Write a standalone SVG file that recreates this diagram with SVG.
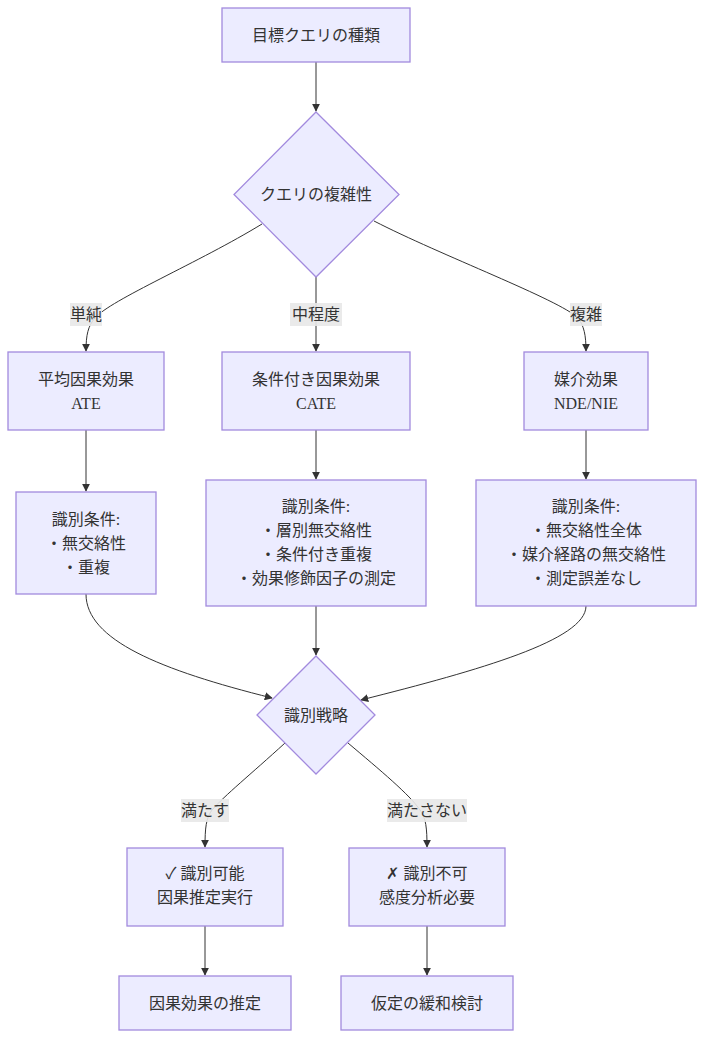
<svg xmlns="http://www.w3.org/2000/svg" width="704" height="1038" viewBox="0 0 704 1038">
<defs>
<marker id="arr" viewBox="0 0 10 10" refX="9" refY="5" markerWidth="8" markerHeight="8" markerUnits="userSpaceOnUse" orient="auto">
<path d="M0,0 L10,5 L0,10 z" fill="#333"/>
</marker>
<style>
.n{fill:#ECECFF;stroke:#a28ade;stroke-width:1.3}
.t{font-family:"Liberation Serif","Noto Sans CJK JP",serif;font-size:16px;fill:#333;text-anchor:middle;dominant-baseline:central}
.e{fill:none;stroke:#333;stroke-width:1;marker-end:url(#arr)}
.lb{fill:#e8e8e8;opacity:0.9}
</style>
</defs>
<rect width="704" height="1038" fill="#fff"/>
<g id="connectors">
<path class="e" d="M316,62 L316,111"/>
<path class="e" d="M262,224 C200,262 110,300 95,318 C88,326 86,335 86,351"/>
<path class="e" d="M316,277 L316,351"/>
<path class="e" d="M374,221 C440,255 560,300 578,318 C584,326 586,335 586,351"/>
<path class="e" d="M86,430 L86,491"/>
<path class="e" d="M316,430 L316,479"/>
<path class="e" d="M586,430 L586,479"/>
<path class="e" d="M86,594 C86,640 160,670 272,698"/>
<path class="e" d="M316,606 L316,655"/>
<path class="e" d="M586,606 C586,640 480,670 361,700"/>
<path class="e" d="M285,743 C250,775 225,795 212,810 C206,818 205,828 205,847"/>
<path class="e" d="M348,743 C380,770 410,795 420,810 C426,818 427,828 427,847"/>
<path class="e" d="M205,926 L205,975"/>
<path class="e" d="M427,926 L427,975"/>
<rect class="lb" x="70" y="303" width="32" height="23"/>
<text class="t" x="86" y="314">単純</text>
<rect class="lb" x="290" y="303" width="52" height="23"/>
<text class="t" x="316" y="314">中程度</text>
<rect class="lb" x="570" y="303" width="32" height="23"/>
<text class="t" x="586" y="314">複雑</text>
<rect class="lb" x="181" y="799" width="48" height="23"/>
<text class="t" x="205" y="810">満たす</text>
<rect class="lb" x="387" y="799" width="80" height="23"/>
<text class="t" x="427" y="810">満たさない</text>
</g>
<g id="start"><rect class="n" x="222" y="8" width="188" height="54"/><text class="t" x="316" y="35">目標クエリの種類</text></g>
<g id="complexity"><polygon class="n" points="316,112 399,194.5 316,277 234,194.5"/><text class="t" x="316" y="194">クエリの複雑性</text></g>
<g id="ate"><rect class="n" x="8" y="352" width="156" height="78"/><text class="t" x="86" y="379">平均因果効果</text><text class="t" x="86" y="403">ATE</text></g>
<g id="cate"><rect class="n" x="222" y="352" width="188" height="78"/><text class="t" x="316" y="379">条件付き因果効果</text><text class="t" x="316" y="403">CATE</text></g>
<g id="med"><rect class="n" x="524" y="352" width="124" height="78"/><text class="t" x="586" y="379">媒介効果</text><text class="t" x="586" y="403">NDE/NIE</text></g>
<g id="cond1"><rect class="n" x="16" y="492" width="140" height="102"/><text class="t" x="86" y="519">識別条件:</text><text class="t" x="86" y="543">・無交絡性</text><text class="t" x="86" y="567">・重複</text></g>
<g id="cond2"><rect class="n" x="206" y="480" width="220" height="126"/><text class="t" x="316" y="506">識別条件:</text><text class="t" x="316" y="530">・層別無交絡性</text><text class="t" x="316" y="554">・条件付き重複</text><text class="t" x="316" y="578">・効果修飾因子の測定</text></g>
<g id="cond3"><rect class="n" x="476" y="480" width="220" height="126"/><text class="t" x="586" y="506">識別条件:</text><text class="t" x="586" y="530">・無交絡性全体</text><text class="t" x="586" y="554">・媒介経路の無交絡性</text><text class="t" x="586" y="578">・測定誤差なし</text></g>
<g id="strategy"><polygon class="n" points="316,656 375,715 316,774 257,715"/><text class="t" x="316" y="715">識別戦略</text></g>
<g id="ok"><rect class="n" x="127" y="848" width="156" height="78"/><text class="t" x="205" y="873">✓ 識別可能</text><text class="t" x="205" y="897">因果推定実行</text></g>
<g id="ng"><rect class="n" x="349" y="848" width="156" height="78"/><text class="t" x="427" y="873">✗ 識別不可</text><text class="t" x="427" y="897">感度分析必要</text></g>
<g id="est"><rect class="n" x="119" y="976" width="172" height="54"/><text class="t" x="205" y="1003">因果効果の推定</text></g>
<g id="relax"><rect class="n" x="341" y="976" width="172" height="54"/><text class="t" x="427" y="1003">仮定の緩和検討</text></g>
</svg>
